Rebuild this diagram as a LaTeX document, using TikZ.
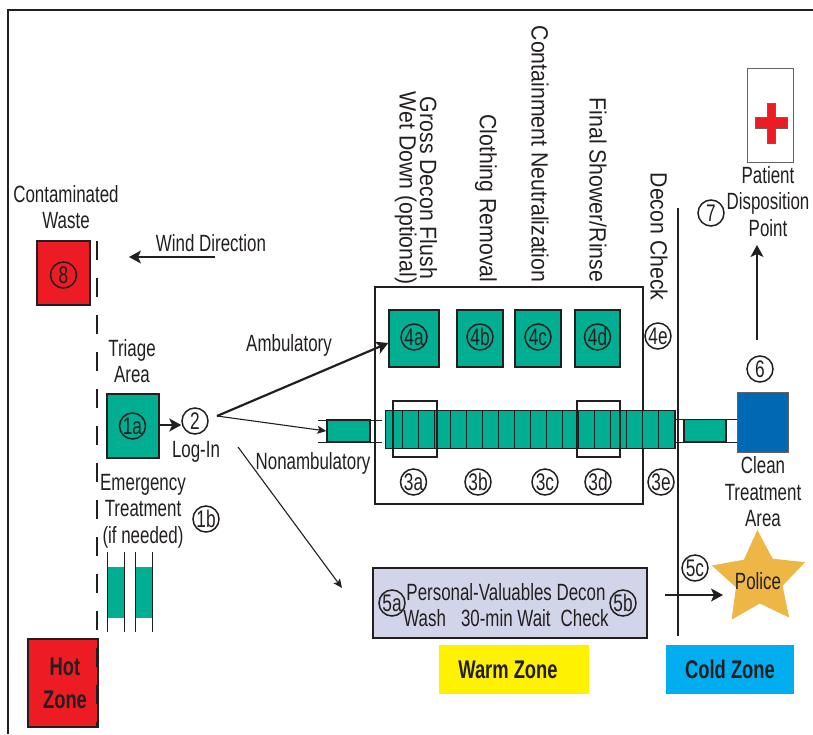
\documentclass[tikz,border=0pt]{standalone}
\usepackage{fontspec}
\setmainfont{Liberation Sans}[FakeStretch=0.72]
\newfontfamily\sidefont{Liberation Sans}[FakeStretch=0.905]
\usetikzlibrary{arrows.meta, shapes.geometric}
\definecolor{inkdark}{HTML}{231F20}
\definecolor{decongreen}{HTML}{00AE91}
\definecolor{hotred}{HTML}{ED1C24}
\definecolor{cleanblue}{HTML}{0069B4}
\definecolor{washlilac}{HTML}{D2D5EA}
\definecolor{warmyellow}{HTML}{FFF200}
\definecolor{coldcyan}{HTML}{00AEEF}
\definecolor{policegold}{HTML}{EDB645}
\tikzset{
    label/.style={inner sep=0, align=center, text=inkdark, font=\fontsize{23.5}{26.5}\selectfont},
    sidelabel/.style={inner sep=0, align=center, text=inkdark, rotate=-90, font=\sidefont\fontsize{23.5}{20.5}\selectfont},
    zonelabel/.style={inner sep=0, align=center, text=inkdark, font=\fontsize{25.5}{33}\selectfont\bfseries},
    num/.style={draw=inkdark, circle, line width=1.5pt, minimum size=26pt, inner sep=0, text=inkdark,
        font=\fontsize{24}{24}\selectfont},
    greenbox/.style={draw=inkdark, line width=1.4pt, fill=decongreen, inner sep=0},
    redbox/.style={draw=inkdark, line width=1.6pt, fill=hotred, inner sep=0},
    thinline/.style={draw=inkdark, line width=0.9pt},
    link/.style={draw=inkdark, line width=1.6pt, -{Stealth[length=12pt, width=13pt, inset=3pt]}},
    thinlink/.style={draw=inkdark, line width=1.1pt, -{Stealth[length=9pt, width=8pt, inset=2pt]}},
}
\begin{document}
\begin{tikzpicture}[x=1pt, y=-1pt]
    \useasboundingbox (0, 0) rectangle (813, 734);
    \draw[inkdark, line width=2.2pt] (8, 734) -- (8, 10) -- (813, 10);

    % hot zone side
    \node (waste) [label] at (66, 207) {Contaminated\\Waste};
    \node (box8) [redbox, minimum width=53pt, minimum height=64pt] at (63.5, 273) {};
    \node (n8) [num] at (63.5, 275) {8};
    \node (hot) [redbox, minimum width=70pt, minimum height=88pt] at (63, 683) {};
    \node (hottext) [zonelabel] at (65, 683.5) {Hot\\Zone};
    \draw[inkdark, line width=2pt, dash pattern=on 19pt off 18pt] (97, 241) -- (97, 727);
    \node (wind) [label] at (211, 243) {Wind Direction};
    \coordinate (windstart) at (215, 257);
    \coordinate (windend) at (129, 257);
    \draw[link] (windstart) -- (windend);

    \node (triage) [label] at (132, 361) {Triage\\Area};
    \node (box1a) [greenbox, minimum width=52pt, minimum height=64pt] at (133, 426) {};
    \node (n1a) [num] at (132.5, 426) {1a};
    \node (n2) [num] at (195, 421) {2};
    \node (login) [label] at (196, 452) {Log-In};
    \draw[link] (box1a.east |- 0, 425) -- (n2.west |- 0, 425);

    \node (emergency) [label] at (143, 511) {Emergency\\Treatment\\(if needed)};
    \node (n1b) [num] at (206, 519) {1b};
    \foreach \x in {107, 135} {
        \fill[decongreen] (\x, 567) rectangle +(17, 51);
        \draw[thinline] (\x, 552) -- (\x, 632) (\x+17, 552) -- (\x+17, 632);
    }

    % decon corridor
    \node (corridor) [draw=inkdark, line width=1.6pt, minimum width=268pt, minimum height=217pt, inner sep=0]
        at (509, 395.5) {};
    \foreach \name/\x/\w in {a/414/50, b/480/46, c/538/46, d/597.5/45} {
        \node (box4\name) [greenbox, minimum width=\w pt, minimum height=57pt] at (\x, 338.5) {};
        \node (n4\name) [num] at (\x, 337) {4\name};
    }
    \node (n4e) [num] at (658, 336) {4e};

    \node (bar) [fill=decongreen, minimum width=290pt, minimum height=38pt, inner sep=0] at (530, 429) {};
    \foreach \x in {402, 418, ..., 674} {
        \draw[inkdark, line width=0.8pt] (\x, 410) -- (\x, 448);
    }
    \draw[inkdark, line width=0.5pt] (bar.north west) rectangle (bar.south east);
    \node (frame3a) [draw=inkdark, line width=1.5pt, minimum width=44pt, minimum height=56pt, inner sep=0] at (415, 429) {};
    \node (frame3d) [draw=inkdark, line width=1.5pt, minimum width=43pt, minimum height=56pt, inner sep=0] at (598.5, 429) {};
    \foreach \name/\x in {a/413.5, b/478, c/545, d/598, e/661} {
        \node (n3\name) [num] at (\x, 482) {3\name};
    }

    % stretchers either side of the corridor
    \draw[thinline] (318, 420) -- (382, 420) (318, 442) -- (382, 442);
    \node (entry) [greenbox, minimum width=43pt, minimum height=22pt] at (348.5, 431) {};
    \draw[thinline] (675, 419) -- (737, 419) (675, 442) -- (737, 442);
    \node (exit) [greenbox, minimum width=42pt, minimum height=22pt] at (705, 430.5) {};

    \coordinate (fan) at (217, 416);
    \coordinate (ambend) at (box4a.west |- 0, 343);
    \coordinate (splitstart) at (238, 447);
    \coordinate (splitend) at (342, 588);
    \draw[link, line width=2.2pt] (fan) -- (ambend);
    \draw[thinlink] (fan) -- (entry.west);
    \draw[thinlink] (splitstart) -- (splitend);
    \node (ambulatory) [label] at (289, 345) {Ambulatory};
    \node (nonambulatory) [label] at (313, 463) {Nonambulatory};

    \node (gross) [sidelabel] at (416, 188) {Gross Decon Flush\\Wet Down (optional)};
    \node (clothing) [sidelabel] at (486, 198.5) {Clothing Removal};
    \node (neutral) [sidelabel] at (540, 154) {Containment Neutralization};
    \node (shower) [sidelabel] at (598, 190) {Final Shower/Rinse};
    \node (check) [sidelabel] at (659, 236.5) {Decon Check};

    % cold zone side
    \draw[inkdark, line width=1.4pt] (678, 208) -- (678, 636);
    \node (blue) [draw=inkdark!70, line width=0.8pt, fill=cleanblue, minimum width=51pt, minimum height=60pt, inner sep=0] at (762.5, 422) {};
    \node (clean) [label] at (763, 492) {Clean\\Treatment\\Area};
    \node (n6) [num] at (760, 369) {6};
    \node (n7) [num] at (711, 213) {7};
    \node (patient) [label] at (768, 201.5) {Patient\\Disposition\\Point};
    \coordinate (upstart) at (757, 340);
    \coordinate (upend) at (757, 245);
    \draw[link] (upstart) -- (upend);
    \node (hospital) [draw=inkdark!70, line width=0.8pt, minimum width=46pt, minimum height=94pt, inner sep=0] at (770, 115) {};
    \filldraw[fill=hotred, draw=inkdark!70, line width=0.7pt]
        (767, 103) -- (775, 103) -- (775, 117) -- (787, 117) -- (787, 128) -- (775, 128)
        -- (775, 143) -- (767, 143) -- (767, 128) -- (755, 128) -- (755, 117) -- (767, 117) -- cycle;

    % valuables
    \node (wash) [draw=inkdark, fill=washlilac, line width=1.6pt, minimum width=274pt, minimum height=70pt, inner sep=0] at (510, 603) {};
    \node (washtext) [label] at (506, 605) {Personal-Valuables Decon\\Wash\hspace{15pt}30-min Wait\hspace{10pt}Check};
    \node (n5a) [num] at (392, 603) {5a};
    \node (n5b) [num] at (623, 603) {5b};
    \node (n5c) [num] at (695, 568) {5c};
    \node (police) [star, star points=5, star point ratio=2, shape border rotate=2, fill=policegold,
        minimum size=98pt, inner sep=0] at (759, 579) {};
    \node (policetext) [label] at (758, 581) {Police};
    \coordinate (policestart) at (665, 595);
    \coordinate (policeend) at (723, 595);
    \draw[link] (policestart) -- (policeend);

    % zone tags
    \node (warm) [fill=warmyellow, minimum width=150pt, minimum height=49pt] at (514, 669.5) {};
    \node (warmtext) [zonelabel] at (508, 670) {Warm Zone};
    \node (cold) [fill=coldcyan, minimum width=128pt, minimum height=49pt, zonelabel] at (730, 669.5) {Cold Zone};
\end{tikzpicture}
\end{document}
